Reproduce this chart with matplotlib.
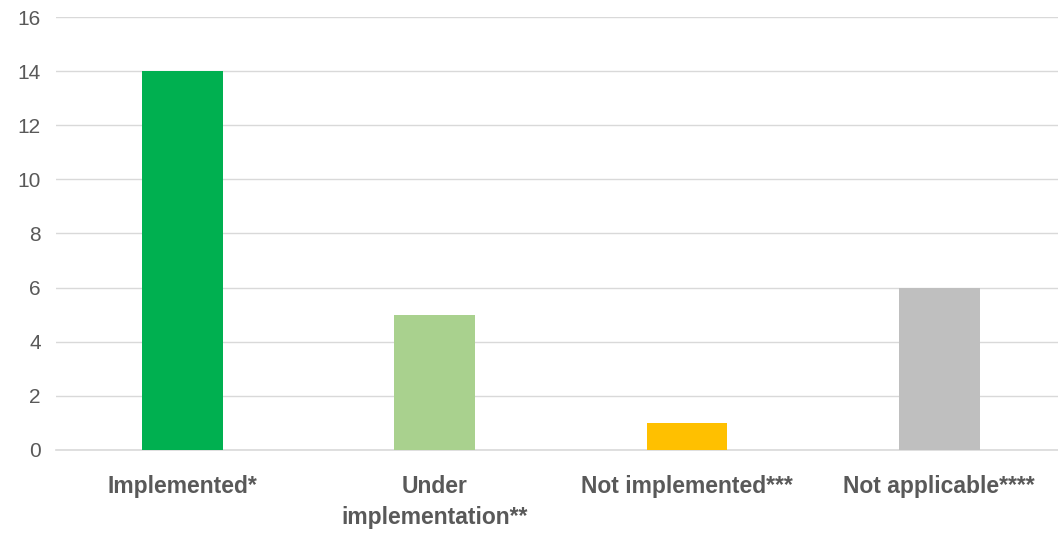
import matplotlib.pyplot as plt

categories = ['Implemented*', 'Under\nimplementation**', 'Not implemented***', 'Not applicable****']
counts = [14, 5, 1, 6]
colors = ['#00B050', '#A9D18E', '#FFC000', '#BFBFBF']

plt.rcParams['font.family'] = ['Liberation Sans', 'DejaVu Sans']

fig = plt.figure(figsize=(10.58, 5.33), dpi=100)
ax = fig.add_axes([0.053, 0.156, 0.954, 0.812])

x = range(len(categories))
ax.bar(x, counts, width=0.32, color=colors, zorder=3)

ax.set_xlim(-0.5, len(categories) - 0.5)
ax.set_ylim(0, 16)
ax.set_yticks(range(0, 17, 2))
ax.set_xticks(list(x))
ax.set_xticklabels(categories, fontsize=16.5, fontweight='bold', color='#595959', linespacing=1.45)
ax.tick_params(axis='y', labelsize=15, labelcolor='#595959', length=0, pad=11)
ax.tick_params(axis='x', length=0, pad=18)

ax.grid(axis='y', color='#D9D9D9', linewidth=1, zorder=0)
for s in ['top', 'right', 'left']:
    ax.spines[s].set_visible(False)
ax.spines['bottom'].set_color('#D9D9D9')
ax.spines['bottom'].set_linewidth(1.2)

fig.savefig('out.png', dpi=100)
